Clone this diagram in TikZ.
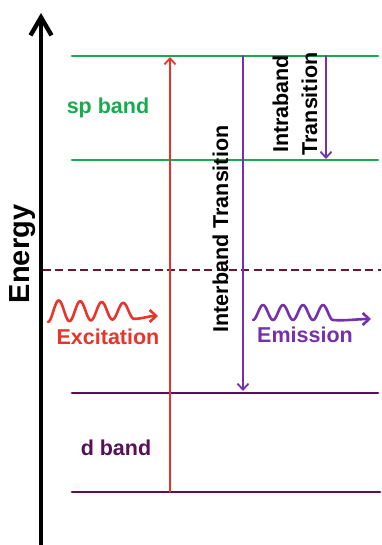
\documentclass[tikz,border=0pt]{standalone}
\usepackage{fontspec}
\setmainfont{Liberation Sans}
\usetikzlibrary{arrows.meta}
\definecolor{spgreen}{RGB}{22,172,78}
\definecolor{exred}{RGB}{232,52,42}
\definecolor{empurple}{RGB}{118,48,172}
\definecolor{dpurple}{RGB}{88,16,88}
\definecolor{fermi}{RGB}{105,25,45}
\tikzset{
  band/.style={line width=1.4pt},
  trans/.style={line width=0.9pt, -{Straight Barb[length=3pt,width=5.5pt]}},
  photon/.style={line width=1.3pt, -{Straight Barb[length=3.2pt,width=6pt]}},
  lbl/.style={inner sep=0pt}
}
\begin{document}
\begin{tikzpicture}[x=0.5pt, y=-0.5pt, font=\bfseries\fontsize{10.75}{14.5}\selectfont, line join=round, line cap=round]
    \useasboundingbox (0,0) rectangle (381,545);
    % energy axis
    \coordinate (axbot) at (41,545);
    \coordinate (axtop) at (41,13);
    \draw[line width=2.2pt, -{Straight Barb[length=9pt,width=10.5pt]}] (axbot) -- (axtop);
    \node[lbl, rotate=90, anchor=base, font=\bfseries\fontsize{14.5}{16}\selectfont] (energy) at (29,254) {Energy};
    % band edges
    \coordinate (spA) at (72,56);  \coordinate (spB) at (378,56);
    \coordinate (spC) at (72,160); \coordinate (spD) at (378,160);
    \coordinate (dA) at (72,393);  \coordinate (dB) at (378,393);
    \coordinate (dC) at (72,492);  \coordinate (dD) at (380,492);
    \coordinate (efA) at (43,270); \coordinate (efB) at (381,270);
    \draw[band, spgreen] (spA) -- (spB) (spC) -- (spD);
    \draw[band, dpurple] (dA) -- (dB) (dC) -- (dD);
    \draw[band, fermi, line cap=butt, dash pattern=on 4pt off 2.2pt] (efA) -- (efB);
    \node[lbl, text=spgreen] (spband) at (108,108) {sp band};
    \node[lbl, text=dpurple] (dband) at (116,448) {d band};
    % transitions
    \coordinate (exlow) at (170,492); \coordinate (exhigh) at (170,57);
    \coordinate (inhigh) at (243,56); \coordinate (inlow) at (243,391);
    \coordinate (trhigh) at (326,56); \coordinate (trlow) at (326,159);
    \draw[trans, exred] (exlow) -- (exhigh);
    \draw[trans, empurple] (inhigh) -- (inlow);
    \draw[trans, empurple] (trhigh) -- (trlow);
    \node[lbl, rotate=90, anchor=base] (inter) at (228,229) {Interband Transition};
    \node[lbl, rotate=90, align=center] (intra) at (295,104) {Intraband\\Transition};
    % photons
    \coordinate (extip) at (158,316);
    \coordinate (emtip) at (371,319);
    \draw[photon, exred] plot[domain=0:4, samples=80, variable=\t] ({48+21.5*\t}, {311+(11-0.8*\t)*cos(360*\t)})
        .. controls (142,319) and (148,316) .. (extip);
    \draw[photon, empurple] plot[domain=0:4, samples=80, variable=\t] ({253+20*\t}, {312.5+7.5*cos(360*\t)})
        .. controls (345,321) and (358,319) .. (emtip);
    \node[lbl, text=exred] (exlabel) at (108,337) {Excitation};
    \node[lbl, text=empurple] (emlabel) at (305,335) {Emission};
\end{tikzpicture}
\end{document}
